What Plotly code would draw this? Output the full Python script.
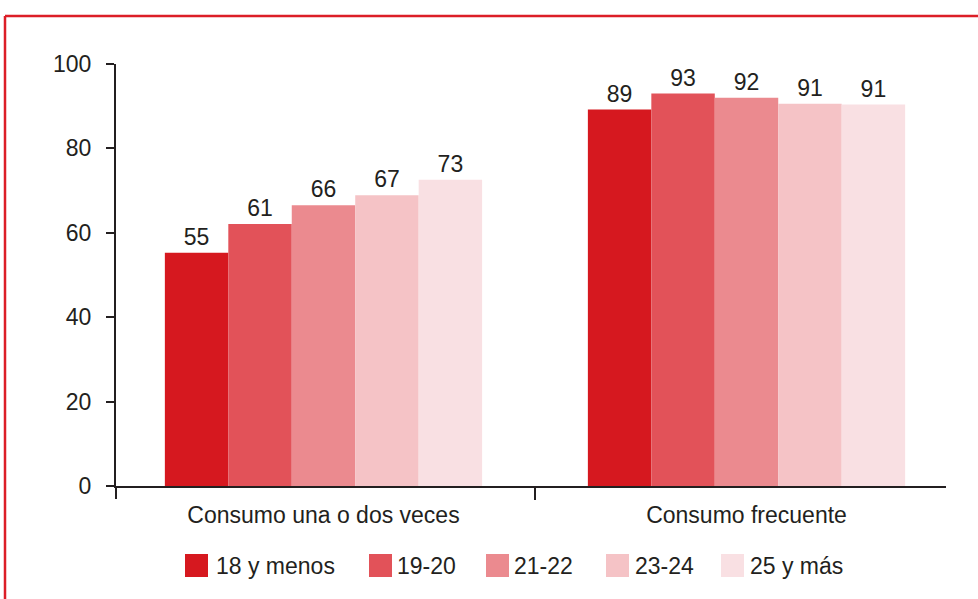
import plotly.graph_objects as go

categories = ["Consumo una o dos veces", "Consumo frecuente"]
series_names = ["18 y menos", "19-20", "21-22", "23-24", "25 y más"]
# bar heights (per series: [una o dos veces, frecuente])
series_values = [
    [55.3, 89.2],
    [62.1, 93.0],
    [66.5, 92.0],
    [68.9, 90.6],
    [72.6, 90.4],
]
# printed value labels
series_labels = [
    ["55", "89"],
    ["61", "93"],
    ["66", "92"],
    ["67", "91"],
    ["73", "91"],
]
y_ticks = [0, 20, 40, 60, 80, 100]
colors = ["#d6181f", "#e25259", "#eb8a8f", "#f5c3c6", "#f9e0e3"]

W, H = 978, 599
L, R, T, B = 116, 32, 64, 113
PW, PH = W - L - R, H - T - B

def px(x):
    return (x - L) / PW

def py(y):
    return (H - B - y) / PH

FONT = "Liberation Sans, Arial, Helvetica, sans-serif"
TXT = "#231f20"

fig = go.Figure()
for name, vals, labs, col in zip(series_names, series_values, series_labels, colors):
    fig.add_trace(go.Bar(
        name=name, x=categories, y=vals, text=labs,
        textposition="outside", cliponaxis=False,
        textfont=dict(size=23, color=TXT, family=FONT),
        marker=dict(color=col, line=dict(width=0)),
        showlegend=False,
    ))

shapes = []
annotations = []
# manual legend
sw_x = [185, 369, 486, 606, 721]
tx_x = [214, 395, 512, 633, 748]
for name, col, sx, tx in zip(series_names, colors, sw_x, tx_x):
    shapes.append(dict(type="rect", xref="paper", yref="paper",
                       x0=px(sx), x1=px(sx + 23), y0=py(577), y1=py(554),
                       fillcolor=col, line=dict(width=0)))
    annotations.append(dict(xref="paper", yref="paper", x=px(tx), y=py(565.5),
                            text=name, showarrow=False, xanchor="left", yanchor="middle",
                            font=dict(size=23, color=TXT, family=FONT)))
# red frame (top and left)
shapes.append(dict(type="line", xref="paper", yref="paper",
                   x0=px(5), x1=px(W + 5), y0=py(16), y1=py(16),
                   line=dict(color="#dc1e27", width=2.5)))
shapes.append(dict(type="line", xref="paper", yref="paper",
                   x0=px(5), x1=px(5), y0=py(16), y1=py(H + 5),
                   line=dict(color="#dc1e27", width=2.5)))
# left boundary tick below the x axis
shapes.append(dict(type="line", xref="paper", yref="paper",
                   x0=0, x1=0, y0=0, y1=py(499),
                   line=dict(color=TXT, width=2)))

fig.update_layout(
    width=W, height=H,
    margin=dict(l=L, r=R, t=T, b=B),
    paper_bgcolor="white", plot_bgcolor="white",
    barmode="group", bargap=0.25, bargroupgap=0,
    font=dict(family=FONT, size=23, color=TXT),
    showlegend=False,
    shapes=shapes, annotations=annotations,
    xaxis=dict(
        type="category", range=[-0.4905, 1.4716],
        showgrid=False, zeroline=False,
        showline=True, linecolor=TXT, linewidth=2,
        ticks="outside", tickson="boundaries", ticklen=12, tickwidth=2, tickcolor=TXT,
        tickfont=dict(size=23, color=TXT, family=FONT),
        ticklabelstandoff=7,
    ),
    yaxis=dict(
        range=[0, 100], tickvals=y_ticks, ticktext=[str(v) for v in y_ticks],
        showgrid=False, zeroline=False,
        showline=True, linecolor=TXT, linewidth=2,
        ticks="outside", ticklen=8, tickwidth=2, tickcolor=TXT,
        tickfont=dict(size=23, color=TXT, family=FONT),
        ticklabelstandoff=10,
    ),
)

fig.write_html("out.html",
               config={"displayModeBar": False},
               post_script="document.body.style.margin='0';document.body.style.overflow='hidden';")
